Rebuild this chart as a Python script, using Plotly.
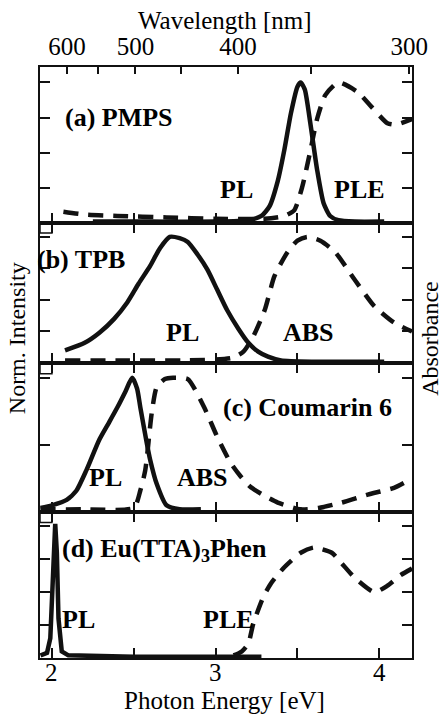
import plotly.graph_objects as go
from plotly.subplots import make_subplots

# ---------------- data (photon energy in eV, normalized intensity) ----------------
# (a) PMPS
pmps_pl_E = [2.25, 2.6, 3.0, 3.2, 3.28, 3.33, 3.38, 3.42, 3.46, 3.50, 3.52, 3.545, 3.58, 3.62, 3.66, 3.70, 3.75, 3.85, 4.03]
pmps_pl_v = [0.01, 0.01, 0.01, 0.02, 0.05, 0.12, 0.30, 0.52, 0.78, 0.97, 1.0, 0.95, 0.70, 0.38, 0.14, 0.05, 0.02, 0.01, 0.01]
pmps_ple_E = [2.07, 2.2, 2.4, 2.7, 3.0, 3.3, 3.42, 3.48, 3.53, 3.58, 3.62, 3.67, 3.75, 3.87, 3.95, 4.05, 4.10, 4.2]
pmps_ple_v = [0.08, 0.06, 0.05, 0.04, 0.03, 0.03, 0.05, 0.09, 0.26, 0.52, 0.74, 0.91, 1.0, 0.93, 0.83, 0.71, 0.70, 0.74]

# (b) TPB
tpb_pl_E = [2.08, 2.2, 2.29, 2.38, 2.46, 2.53, 2.60, 2.66, 2.72, 2.78, 2.83, 2.89, 2.95, 3.01, 3.07, 3.14, 3.20, 3.26, 3.32, 3.40, 3.6, 3.8, 4.03]
tpb_pl_v = [0.10, 0.16, 0.24, 0.35, 0.48, 0.63, 0.77, 0.91, 1.0, 0.99, 0.96, 0.86, 0.74, 0.58, 0.42, 0.27, 0.16, 0.09, 0.05, 0.02, 0.01, 0.01, 0.01]
tpb_abs_E = [2.08, 2.4, 2.8, 3.1, 3.17, 3.23, 3.30, 3.36, 3.44, 3.50, 3.56, 3.64, 3.73, 3.85, 3.97, 4.09, 4.2]
tpb_abs_v = [0.02, 0.02, 0.02, 0.04, 0.09, 0.21, 0.42, 0.69, 0.88, 0.97, 1.0, 0.97, 0.88, 0.66, 0.45, 0.32, 0.25]

# (c) Coumarin 6
c6_pl_E = [1.93, 2.0, 2.09, 2.15, 2.21, 2.29, 2.35, 2.40, 2.45, 2.49, 2.52, 2.54, 2.58, 2.60, 2.64, 2.70, 2.78, 2.91]
c6_pl_v = [0.03, 0.05, 0.09, 0.16, 0.31, 0.54, 0.67, 0.78, 0.90, 1.0, 0.92, 0.78, 0.51, 0.39, 0.21, 0.05, 0.02, 0.02]
c6_abs_E = [1.93, 2.2, 2.5, 2.54, 2.57, 2.61, 2.64, 2.69, 2.74, 2.83, 2.93, 3.01, 3.09, 3.15, 3.21, 3.30, 3.38, 3.52, 3.63, 3.77, 3.93, 4.09, 4.2]
c6_abs_v = [0.02, 0.02, 0.03, 0.16, 0.31, 0.74, 0.93, 0.99, 1.0, 0.99, 0.78, 0.56, 0.37, 0.27, 0.19, 0.12, 0.07, 0.02, 0.03, 0.07, 0.13, 0.18, 0.25]

# (d) Eu(TTA)3Phen
eu_pl_E = [1.93, 1.97, 1.99, 2.0, 2.01, 2.02, 2.03, 2.04, 2.06, 2.1, 2.5, 3.0, 3.28]
eu_pl_v = [0.02, 0.04, 0.15, 0.5, 0.9, 1.02, 0.8, 0.3, 0.05, 0.02, 0.01, 0.01, 0.01]
eu_ple_E = [3.11, 3.16, 3.20, 3.23, 3.29, 3.34, 3.42, 3.52, 3.60, 3.71, 3.77, 3.85, 3.97, 4.05, 4.13, 4.2]
eu_ple_v = [0.02, 0.05, 0.11, 0.26, 0.46, 0.57, 0.69, 0.80, 0.84, 0.80, 0.72, 0.61, 0.50, 0.55, 0.63, 0.68]

# axis ticks
energy_major = [2, 3, 4]
energy_major_labels = ["2", "3", "4"]
energy_minor = [2.5, 3.5]
wavelength_major = [600, 500, 400, 300]
wavelength_major_labels = ["600", "500", "400", "300"]
wavelength_minor = [550, 450, 350]
HC = 1255  # eV*nm conversion used for top axis placement

# ---------------- figure ----------------
XR = [1.927, 4.20]
YR = [0, 1.11]
FONT = "Liberation Serif"
INK = "#111111"

fig = make_subplots(rows=4, cols=1, shared_xaxes=True, vertical_spacing=0,
                    row_heights=[156, 140, 149, 146])

panels = [
    (pmps_pl_E, pmps_pl_v, pmps_ple_E, pmps_ple_v, "spline"),
    (tpb_pl_E, tpb_pl_v, tpb_abs_E, tpb_abs_v, "spline"),
    (c6_pl_E, c6_pl_v, c6_abs_E, c6_abs_v, "spline"),
    (eu_pl_E, eu_pl_v, eu_ple_E, eu_ple_v, "linear"),
]
for i, (pe, pv, de, dv, shp) in enumerate(panels, start=1):
    fig.add_trace(go.Scatter(x=pe, y=pv, mode="lines",
                             line=dict(color=INK, width=4.5, shape=shp, smoothing=0.6),
                             showlegend=False, hoverinfo="skip"), row=i, col=1)
    fig.add_trace(go.Scatter(x=de, y=dv, mode="lines",
                             line=dict(color=INK, width=4.5, dash="15px,10px", shape="spline", smoothing=0.6),
                             showlegend=False, hoverinfo="skip"), row=i, col=1)

ytick_sets = [[0.25, 0.5, 0.75, 1.0], [0.25, 0.5, 0.75, 1.0], [0.5, 1.0], [0.25, 0.5, 0.75, 1.0]]
for i in range(1, 5):
    fig.update_yaxes(range=YR, tickvals=ytick_sets[i - 1], showticklabels=False,
                     ticks="inside", ticklen=10, tickwidth=1.5, tickcolor=INK,
                     showline=True, linecolor=INK, linewidth=1.8, mirror="ticks",
                     showgrid=False, zeroline=False, fixedrange=True, row=i, col=1)
    fig.update_xaxes(range=XR, tickvals=energy_major + energy_minor, showticklabels=False,
                     ticks="inside", ticklen=10, tickwidth=1.5, tickcolor=INK,
                     showline=True, linecolor=INK, linewidth=1.8,
                     mirror=("ticks" if i > 1 else True),
                     showgrid=False, zeroline=False, row=i, col=1)

# bottom energy tick labels placed at the energy values
for v, t in zip(energy_major, energy_major_labels):
    fig.add_annotation(text=t, x=v, xref="x4", y=-0.0237, yref="paper", showarrow=False,
                       font=dict(family=FONT, size=25, color="black"),
                       xanchor="center", yanchor="middle")

# top wavelength axis
fig.add_trace(go.Scatter(x=[XR[0]], y=[-1], xaxis="x5", yaxis="y", mode="markers",
                         marker=dict(opacity=0), showlegend=False, hoverinfo="skip"))
fig.update_layout(xaxis5=dict(overlaying="x", side="top", anchor="y", range=XR,
                              tickvals=[HC / w for w in wavelength_major], ticktext=wavelength_major_labels,
                              ticks="inside", ticklen=7, tickwidth=1.5, tickcolor=INK,
                              minor=dict(tickvals=[HC / w for w in wavelength_minor], ticks="inside",
                                         ticklen=7, tickwidth=1.5, tickcolor=INK, showgrid=False),
                              showline=False, showgrid=False, zeroline=False,
                              ticklabelstandoff=6,
                              tickfont=dict(family=FONT, size=25, color="black")))

# small corner boxes on panel boundaries
for yref in ["y2", "y3", "y4"]:
    fig.add_shape(type="rect", xref="x", yref=yref, x0=XR[0], x1=2.0, y0=YR[1] - 0.08, y1=YR[1],
                  line=dict(color=INK, width=1.5), fillcolor="rgba(0,0,0,0)")

bold = dict(family=FONT, size=26, color="black")
labels = [
    ("(a) PMPS", 2.41, 0.75, "x", "y"),
    ("PL", 3.125, 0.236, "x", "y"),
    ("PLE", 3.88, 0.236, "x", "y"),
    ("(b) TPB", 2.18, 0.82, "x2", "y2"),
    ("PL", 2.80, 0.24, "x2", "y2"),
    ("ABS", 3.57, 0.24, "x2", "y2"),
    ("(c) Coumarin 6", 3.56, 0.78, "x3", "y3"),
    ("PL", 2.33, 0.26, "x3", "y3"),
    ("ABS", 2.92, 0.26, "x3", "y3"),
    ("(d) Eu(TTA)<sub>3</sub>Phen", 2.69, 0.82, "x4", "y4"),
    ("PL", 2.16, 0.29, "x4", "y4"),
    ("PLE", 3.08, 0.29, "x4", "y4"),
]
for t, x, y, xr, yr in labels:
    fig.add_annotation(text="<b>" + t + "</b>", x=x, y=y, xref=xr, yref=yr,
                       showarrow=False, font=bold, xanchor="center", yanchor="middle")

title_font = dict(family=FONT, size=25, color="black")
fig.add_annotation(text="Wavelength [nm]", xref="paper", yref="paper", x=0.497, y=1.078,
                   showarrow=False, font=title_font, xanchor="center", yanchor="middle")
fig.add_annotation(text="Photon Energy [eV]", xref="paper", yref="paper", x=0.495, y=-0.072,
                   showarrow=False, font=title_font, xanchor="center", yanchor="middle")
fig.add_annotation(text="Norm. Intensity", xref="paper", yref="paper", x=-0.062, y=0.541,
                   showarrow=False, font=dict(family=FONT, size=24, color="black"),
                   textangle=-90, xanchor="center", yanchor="middle")
fig.add_annotation(text="Absorbance", xref="paper", yref="paper", x=1.05, y=0.541,
                   showarrow=False, font=dict(family=FONT, size=24, color="black"),
                   textangle=-90, xanchor="center", yanchor="middle")

fig.update_layout(width=446, height=717, autosize=False,
                  margin=dict(l=40, r=34, t=67, b=59),
                  paper_bgcolor="white", plot_bgcolor="white",
                  font=dict(family=FONT, color="black"))

fig.write_html("out.html", config={"displayModeBar": False})
